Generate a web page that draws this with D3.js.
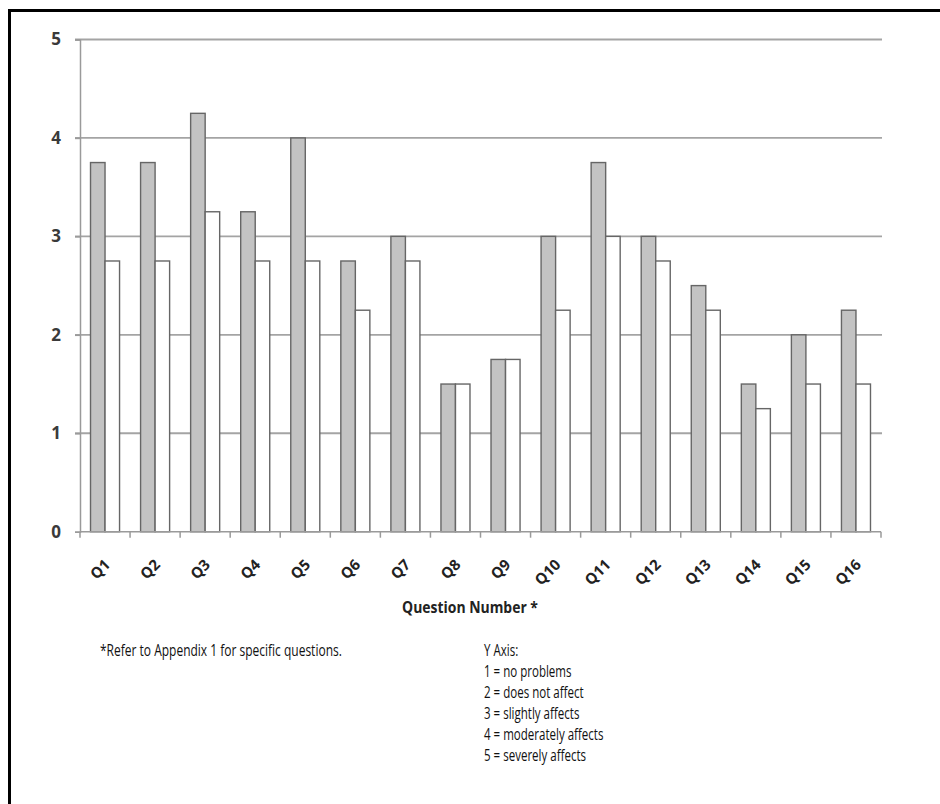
<!DOCTYPE html>
<html>
<head>
<meta charset="utf-8">
<script src="https://cdn.jsdelivr.net/npm/d3@7"></script>
<style>
  html, body { margin: 0; padding: 0; background: #fff; }
  svg { display: block; }
</style>
</head>
<body>
<svg id="chart" width="940" height="804"></svg>
<script>
// Survey answers per question: two groups of mean ratings
const questions = ["Q1","Q2","Q3","Q4","Q5","Q6","Q7","Q8","Q9","Q10","Q11","Q12","Q13","Q14","Q15","Q16"];
const groupA = [3.75, 3.75, 4.25, 3.25, 4.0, 2.75, 3.0, 1.5, 1.75, 3.0, 3.75, 3.0, 2.5, 1.5, 2.0, 2.25];
const groupB = [2.75, 2.75, 3.25, 2.75, 2.75, 2.25, 2.75, 1.5, 1.75, 2.25, 3.0, 2.75, 2.25, 1.25, 1.5, 1.5];
const yTicks = [0, 1, 2, 3, 4, 5];
const xTitle = "Question Number *";
const footnote = "*Refer to Appendix 1 for specific questions.";
const scaleKey = ["Y Axis:", "1 = no problems", "2 = does not affect", "3 = slightly affects", "4 = moderately affects", "5 = severely affects"];

const svg = d3.select("#chart");
const textFont = "'Open Sans', sans-serif";

// outer frame (only top and left edges fall inside the view)
svg.append("path")
  .attr("d", "M9.5,820 V10.5 H960")
  .attr("fill", "none").attr("stroke", "#000").attr("stroke-width", 3);

const plotLeft = 80, plotRight = 881, plotTop = 39.5, plotBottom = 531.7;

const x0 = d3.scaleBand().domain(questions).range([plotLeft, plotRight]).padding(0);
const x1 = d3.scaleBand().domain(["A", "B"])
  .range([x0.bandwidth() * 0.21, x0.bandwidth() * 0.79]).padding(0);
const y = d3.scaleLinear().domain([0, 5]).range([plotBottom, plotTop]);

// horizontal gridlines with short ticks on the left
svg.append("g")
  .selectAll("line").data(yTicks.filter(d => d > 0)).join("line")
  .attr("x1", plotLeft - 5).attr("x2", plotRight + 1)
  .attr("y1", d => y(d)).attr("y2", d => y(d))
  .attr("stroke", "#a4a4a4").attr("stroke-width", 1.8);

// y axis
const yAxis = svg.append("g")
  .attr("transform", `translate(${plotLeft},0)`)
  .call(d3.axisLeft(y).tickValues(yTicks).tickSize(5).tickPadding(14).tickFormat(d3.format("d")));
yAxis.select(".domain").attr("stroke", "#9a9a9a").attr("stroke-width", 1.5);
yAxis.selectAll(".tick line").attr("stroke", "#9a9a9a").attr("stroke-width", 1.5);
yAxis.selectAll(".tick text")
  .attr("font-family", textFont)
  .attr("font-weight", "bold").attr("font-size", 17).attr("fill", "#3a3a3a");

// bars
const groups = svg.append("g").selectAll("g").data(questions).join("g")
  .attr("transform", d => `translate(${x0(d)},0)`);

groups.selectAll("rect")
  .data((d, i) => [{k: "A", v: groupA[i]}, {k: "B", v: groupB[i]}])
  .join("rect")
  .attr("x", d => x1(d.k))
  .attr("width", x1.bandwidth())
  .attr("y", d => y(d.v))
  .attr("height", d => y(0) - y(d.v))
  .attr("fill", d => d.k === "A" ? "#c3c3c3" : "#ffffff")
  .attr("stroke", "#666").attr("stroke-width", 1.4);

// x axis with ticks at category boundaries
const xAxisG = svg.append("g").attr("transform", `translate(0,${plotBottom})`);
xAxisG.append("line")
  .attr("x1", plotLeft).attr("x2", plotRight)
  .attr("stroke", "#9a9a9a").attr("stroke-width", 1.5);
xAxisG.selectAll("line.tk")
  .data(questions.map(q => x0(q)).concat([plotRight]))
  .join("line").attr("class", "tk")
  .attr("x1", d => d).attr("x2", d => d)
  .attr("y1", 0).attr("y2", 6)
  .attr("stroke", "#9a9a9a").attr("stroke-width", 1.5);

// rotated category labels
xAxisG.selectAll("text")
  .data(questions).join("text")
  .attr("transform", d => `translate(${x0(d) + x0.bandwidth() / 2 + 6},${34}) rotate(-45)`)
  .attr("text-anchor", "end")
  .attr("font-family", textFont)
  .attr("font-weight", "bold").attr("font-size", 15).attr("fill", "#222")
  .text(d => d);

// axis title
svg.append("text")
  .attr("transform", "translate(470,613) scale(0.9,1)")
  .attr("text-anchor", "middle")
  .attr("font-family", textFont)
  .attr("font-weight", "bold").attr("font-size", 15.5).attr("fill", "#222")
  .text(xTitle);

// notes under the chart (condensed)
svg.append("text")
  .attr("transform", "translate(100,656) scale(0.76,1)")
  .attr("font-family", textFont).attr("font-size", 15.8).attr("fill", "#111")
  .text(footnote);

svg.append("g").selectAll("text").data(scaleKey).join("text")
  .attr("transform", (d, i) => `translate(484,${656 + i * 21}) scale(0.73,1)`)
  .attr("font-family", textFont).attr("font-size", 15.8).attr("fill", "#111")
  .text(d => d);
</script>
</body>
</html>
